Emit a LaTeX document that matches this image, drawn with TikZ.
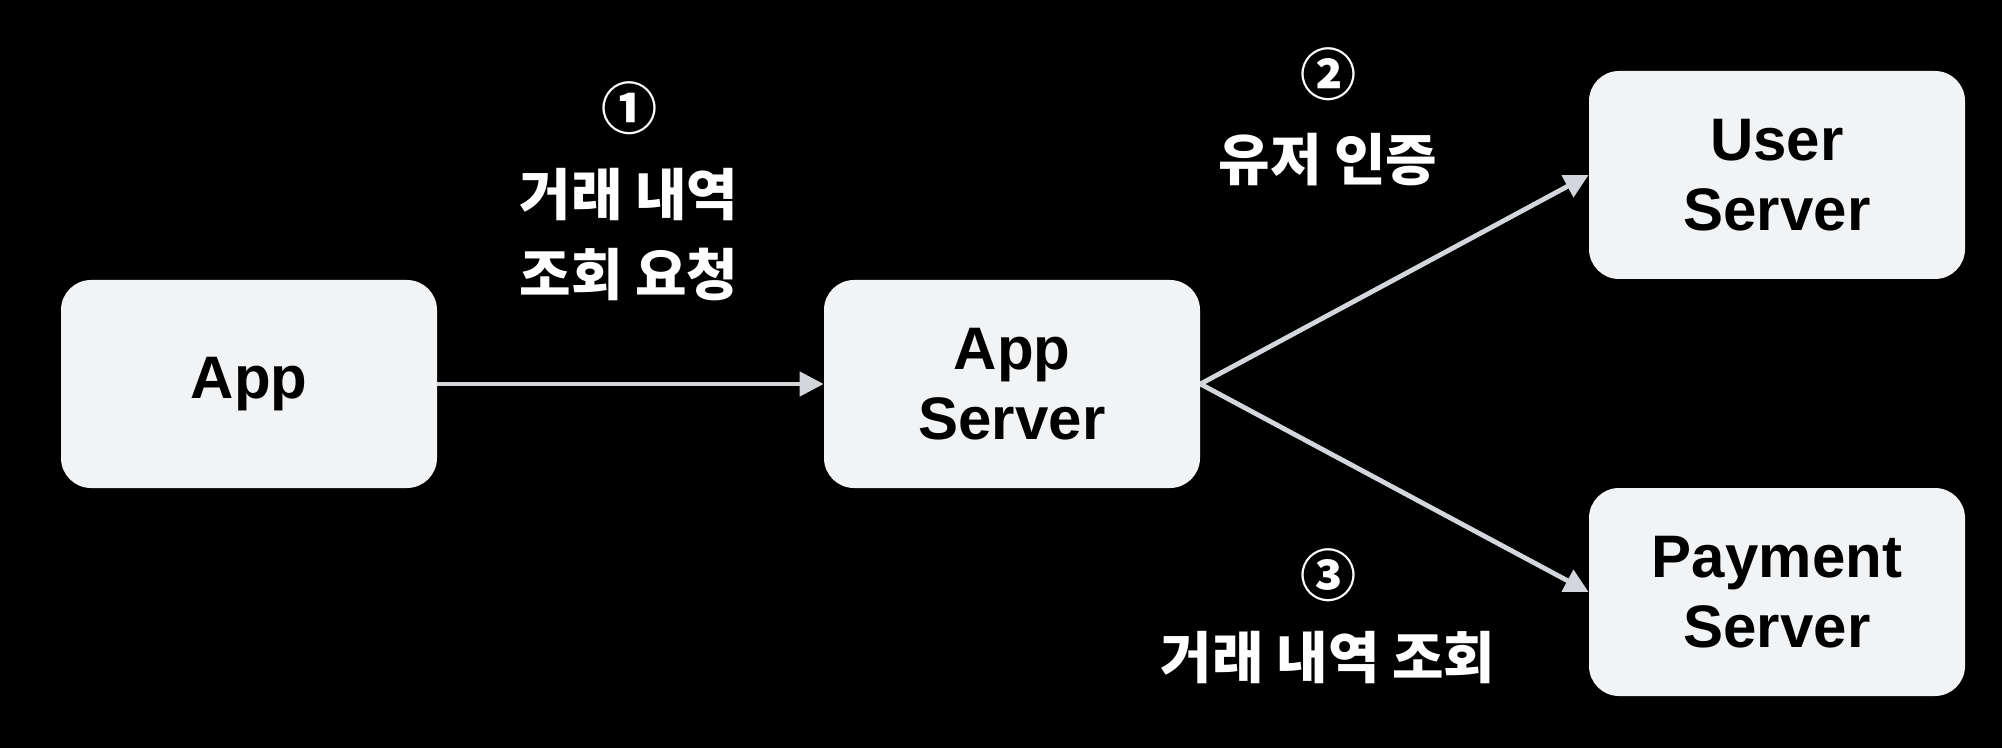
\documentclass[tikz,border=0pt]{standalone}
\usepackage{fontspec}
\setmainfont{Liberation Sans}
\newfontfamily\kr{Noto Sans CJK KR}
\usetikzlibrary{arrows.meta}
\definecolor{boxfill}{HTML}{F2F3F5}
\definecolor{arrowcol}{HTML}{D3D6DA}
\tikzset{
  srvbox/.style={draw=none, fill=boxfill, rounded corners=15pt, minimum width=188pt, minimum height=104pt, align=center, font=\fontsize{30}{35}\selectfont\bfseries, text=black, inner sep=0pt},
  conn/.style={draw=arrowcol, line width=2.4pt, -{Triangle[length=12pt,width=12pt]}},
  lbl/.style={text=white, align=center, font=\kr\fontsize{28}{40}\selectfont\bfseries, inner sep=0pt},
}
\begin{document}
\begin{tikzpicture}[x=0.5pt,y=-0.5pt]
\fill[black] (0,0) rectangle (2002,748);
\useasboundingbox (0,0) rectangle (2002,748);
\node[srvbox] (app) at (249,384) {App};
\node[srvbox] (appsrv) at (1012,384) {App\\Server};
\node[srvbox] (user) at (1777,175) {User\\Server};
\node[srvbox] (pay) at (1777,592) {Payment\\Server};
\draw[conn] (app.east) -- (appsrv.west);
\coordinate (fork) at (appsrv.east);
\draw[conn] (fork) -- (user.west);
\draw[conn] (fork) -- (pay.west);
\node[lbl] (n1) at (629,108) {①};
\node[lbl] (l1) at (629,235) {거래 내역\\조회 요청};
\node[lbl] (n2) at (1328,74) {②};
\node[lbl] (l2) at (1328,160) {유저 인증};
\node[lbl] (n3) at (1328,575) {③};
\node[lbl] (l3) at (1328,658) {거래 내역 조회};
\end{tikzpicture}
\end{document}
